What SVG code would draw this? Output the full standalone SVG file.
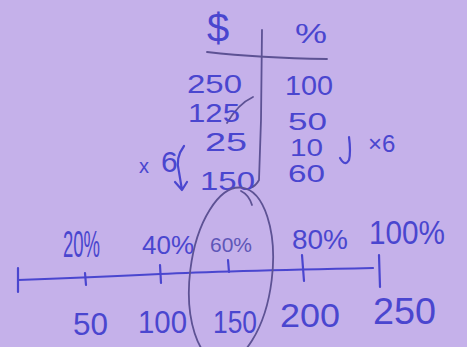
<svg xmlns="http://www.w3.org/2000/svg" width="467" height="347" viewBox="0 0 467 347">
<style>
.ink{font-family:"Liberation Sans","DejaVu Sans",sans-serif;fill:#4a46cf}
.pen{fill:none;stroke:#4a46cf;stroke-width:2.2;stroke-linecap:round;stroke-linejoin:round}
.pencil{fill:none;stroke:#5d5294;stroke-width:1.8;stroke-linecap:round}
.grey{fill:#5e56b8}
</style>
<rect width="467" height="347" fill="#c5b1ea"/>
<g id="table">
<path class="pencil" d="M207 52 Q260 58 327 59"/>
<path class="pencil" d="M262 30 L261 120 L259 180 Q256 186 250 188"/>
<path class="pencil" d="M227 123 Q238 104 253 97"/>
<text class="ink" x="207" y="42" font-size="40">$</text>
<text class="ink" x="295" y="43" font-size="28" textLength="32" lengthAdjust="spacingAndGlyphs">%</text>
<text class="ink" x="187" y="93" font-size="26" textLength="55" lengthAdjust="spacingAndGlyphs">250</text>
<text class="ink" x="285" y="95" font-size="28" textLength="48" lengthAdjust="spacingAndGlyphs">100</text>
<text class="ink" x="188" y="122" font-size="26" textLength="52" lengthAdjust="spacingAndGlyphs">125</text>
<text class="ink" x="288" y="130" font-size="23" textLength="39" lengthAdjust="spacingAndGlyphs">50</text>
<text class="ink" x="205" y="151" font-size="26" textLength="42" lengthAdjust="spacingAndGlyphs">25</text>
<text class="ink" x="290" y="156" font-size="23" textLength="33" lengthAdjust="spacingAndGlyphs">10</text>
<text class="ink" x="200" y="190" font-size="26" textLength="55" lengthAdjust="spacingAndGlyphs">150</text>
<text class="ink" x="288" y="182" font-size="23" textLength="37" lengthAdjust="spacingAndGlyphs">60</text>
</g>
<g id="multiply">
<text class="ink" x="139" y="173" font-size="20">x</text>
<text class="ink" x="161" y="172" font-size="30">6</text>
<path class="pen" d="M184 146 Q175 158 179 172 L182 190 M175 182 L182 190 L187 182"/>
<path class="pen" d="M349 137 Q351 152 349 160 Q345 167 340 158"/>
<text class="ink" x="368" y="152" font-size="24">×6</text>
</g>
<g id="numberline">
<path class="pen" d="M18 280 Q100 277 160 274 T373 268"/>
<path class="pen" d="M18 268 L18 292 M85 273 L86 285 M160 265 L161 283 M228 260 L229 272 M302 255 L304 281 M379 255 L380 287"/>
<text class="ink" x="63" y="257" font-size="36" textLength="37" lengthAdjust="spacingAndGlyphs">20%</text>
<text class="ink" x="142" y="254" font-size="26" textLength="52" lengthAdjust="spacingAndGlyphs">40%</text>
<text class="ink grey" x="210" y="252" font-size="21" textLength="42" lengthAdjust="spacingAndGlyphs">60%</text>
<text class="ink" x="292" y="249" font-size="28" textLength="56" lengthAdjust="spacingAndGlyphs">80%</text>
<text class="ink" x="369" y="244" font-size="34" textLength="76" lengthAdjust="spacingAndGlyphs">100%</text>
<text class="ink" x="73" y="335" font-size="32" textLength="35" lengthAdjust="spacingAndGlyphs">50</text>
<text class="ink" x="138" y="333" font-size="32" textLength="49" lengthAdjust="spacingAndGlyphs">100</text>
<text class="ink" x="213" y="333" font-size="32" textLength="44" lengthAdjust="spacingAndGlyphs">150</text>
<text class="ink" x="280" y="327" font-size="34" textLength="60" lengthAdjust="spacingAndGlyphs">200</text>
<text class="ink" x="373" y="324" font-size="36" textLength="63" lengthAdjust="spacingAndGlyphs">250</text>
<ellipse class="pencil" cx="231" cy="275" rx="41" ry="88" transform="rotate(7 231 275)"/>
<path class="pencil" d="M241 191 Q249 195 252 205"/>
</g>
</svg>
